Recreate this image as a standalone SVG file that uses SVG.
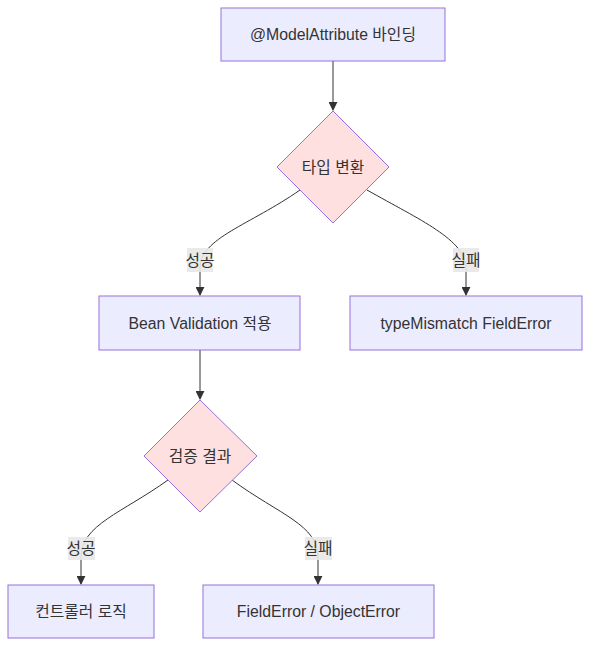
<svg xmlns="http://www.w3.org/2000/svg" width="598" height="655" viewBox="0 0 598 655">
<defs>
<marker id="arr" viewBox="0 0 10 10" refX="9" refY="5" markerWidth="9" markerHeight="9" markerUnits="userSpaceOnUse" orient="auto">
<path d="M0,0 L10,5 L0,10 z" fill="#333"/>
</marker>
</defs>
<style>
.box{fill:#ECECFF;stroke:#9370DB;stroke-width:1}
.dia{fill:#FFE0E0;stroke:#9370DB;stroke-width:1}
.t{font-family:"Liberation Sans","Noto Sans CJK KR",sans-serif;font-size:15.8px;fill:#333;text-anchor:middle;dominant-baseline:central}
.edge{fill:none;stroke:#333;stroke-width:1;marker-end:url(#arr)}
.lb{fill:#E8E8E8;opacity:0.9}
</style>
<rect width="598" height="655" fill="#fff"/>
<g id="connectors">
<path class="edge" d="M333,61 L333,110"/>
<path class="edge" d="M300,190 C250,225 200,238 200,268 L200,295"/>
<path class="edge" d="M367,190 C420,220 466,240 466,268 L466,295"/>
<path class="edge" d="M200,350 L200,399"/>
<path class="edge" d="M168,480 C122,513 81,525 81,557 L81,584"/>
<path class="edge" d="M232,480 C280,515 318,525 318,557 L318,584"/>
<rect class="lb" x="187" y="248" width="26" height="24"/>
<text class="t" x="200" y="260">성공</text>
<rect class="lb" x="453" y="248" width="26" height="24"/>
<text class="t" x="466" y="260">실패</text>
<rect class="lb" x="68" y="537" width="27" height="23"/>
<text class="t" x="81" y="548">성공</text>
<rect class="lb" x="305" y="537" width="27" height="23"/>
<text class="t" x="318" y="548">실패</text>
</g>
<g id="A">
<rect class="box" x="221" y="8" width="224" height="53"/>
<text class="t" x="333" y="34.5">@ModelAttribute 바인딩</text>
</g>
<g id="D1">
<polygon class="dia" points="333,111 389,167 333,223 277,167"/>
<text class="t" x="333" y="167">타입 변환</text>
</g>
<g id="B">
<rect class="box" x="99" y="296" width="201" height="54"/>
<text class="t" x="200" y="323">Bean Validation 적용</text>
</g>
<g id="C">
<rect class="box" x="350" y="296" width="232" height="54"/>
<text class="t" x="466" y="323">typeMismatch FieldError</text>
</g>
<g id="D2">
<polygon class="dia" points="200,400 257,456 200,512 144,456"/>
<text class="t" x="200" y="456">검증 결과</text>
</g>
<g id="D">
<rect class="box" x="8" y="585" width="146" height="53"/>
<text class="t" x="81" y="611.5">컨트롤러 로직</text>
</g>
<g id="E">
<rect class="box" x="203" y="585" width="231" height="53"/>
<text class="t" x="318.5" y="611.5">FieldError / ObjectError</text>
</g>
</svg>
